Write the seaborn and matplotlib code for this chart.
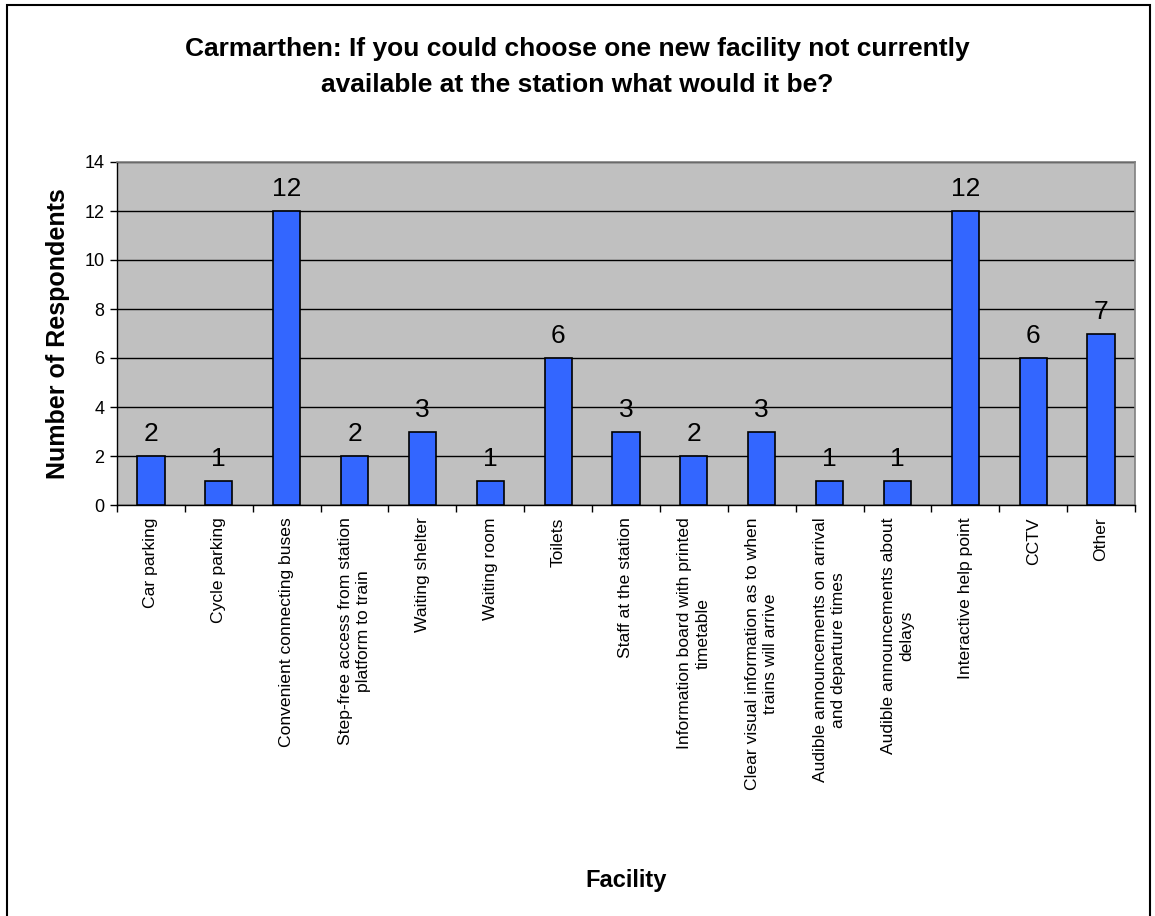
import matplotlib
matplotlib.use("Agg")
import matplotlib.pyplot as plt
import seaborn as sns
import pandas as pd
import numpy as np
from matplotlib.patches import Rectangle

facilities = [
    "Car parking",
    "Cycle parking",
    "Convenient connecting buses",
    "Step-free access from station\nplatform to train",
    "Waiting shelter",
    "Waiting room",
    "Toilets",
    "Staff at the station",
    "Information board with printed\ntimetable",
    "Clear visual information as to when\ntrains will arrive",
    "Audible announcements on arrival\nand departure times",
    "Audible announcements about\ndelays",
    "Interactive help point",
    "CCTV",
    "Other",
]
respondents = [2, 1, 12, 2, 3, 1, 6, 3, 2, 3, 1, 1, 12, 6, 7]
y_ticks = [0, 2, 4, 6, 8, 10, 12, 14]

sns.set_theme(style="white")
plt.rcParams["font.family"] = ["Liberation Sans", "DejaVu Sans"]
plt.rcParams.update({"text.color": "black", "axes.labelcolor": "black",
                     "xtick.color": "black", "ytick.color": "black"})

df = pd.DataFrame({"Facility": facilities, "Respondents": respondents})

fig = plt.figure(figsize=(11.55, 9.16), dpi=100)
ax = fig.add_axes([117 / 1155, 1 - 505 / 916, 1018 / 1155, (505 - 162) / 916])
ax.set_facecolor("#C0C0C0")

sns.barplot(data=df, x="Facility", y="Respondents", ax=ax, color="#3366FF",
            saturation=1, width=0.4, edgecolor="black", linewidth=1.2, zorder=3)

ax.set_ylim(0, 14)
ax.set_xlim(-0.5, len(facilities) - 0.5)
ax.set_yticks(y_ticks)
ax.set_yticklabels([str(t) for t in y_ticks], fontsize=13)
ax.yaxis.grid(True, color="black", linewidth=1.0, zorder=0)
ax.set_axisbelow(True)

# category labels between boundary tick marks
ax.set_xticks(range(len(facilities)))
ax.set_xticklabels(facilities, rotation=90, fontsize=12.6, ha="center", va="top",
                   multialignment="center", linespacing=1.25)
ax.tick_params(axis="x", which="major", length=0, pad=9)
ax.set_xticks(np.arange(-0.5, len(facilities), 1.0), minor=True)
ax.tick_params(axis="x", which="minor", length=5, width=1, color="black",
               direction="out", bottom=True)
ax.tick_params(axis="y", which="major", length=5, width=1, color="black",
               direction="out", left=True, pad=4)

for side in ["left", "bottom"]:
    ax.spines[side].set_color("black")
    ax.spines[side].set_linewidth(1.0)
for side in ["top", "right"]:
    ax.spines[side].set_color("#808080")
    ax.spines[side].set_linewidth(1.2)

for i, v in enumerate(respondents):
    ax.text(i, v + 0.4, str(v), ha="center", va="bottom", fontsize=19, color="black")

ax.set_ylabel("Number of Respondents", fontsize=18, fontweight="bold", labelpad=10)
ax.set_xlabel("Facility", fontsize=17, fontweight="bold", labelpad=0)
ax.xaxis.set_label_coords(0.5, -1.06)

fig.text(0.5, 1 - 67 / 916,
         "Carmarthen: If you could choose one new facility not currently\navailable at the station what would it be?",
         ha="center", va="center", fontsize=19, fontweight="bold", linespacing=1.62)

# chart frame
fig.patches.append(Rectangle((7 / 1155, -0.01), (1150 - 7) / 1155, 1 - 5 / 916 + 0.01,
                             transform=fig.transFigure, fill=False,
                             edgecolor="black", linewidth=1.5))

fig.savefig("out.png", dpi=100)
